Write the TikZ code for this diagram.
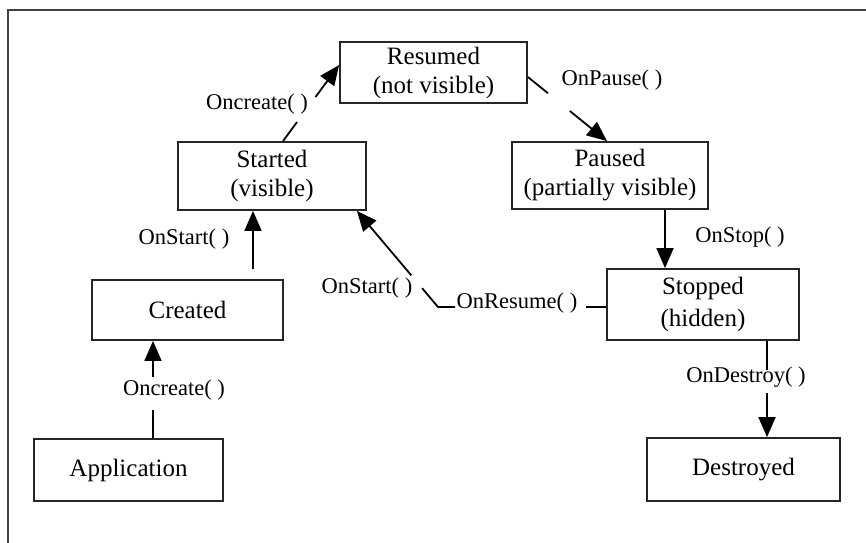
\documentclass[tikz,border=0pt]{standalone}
\usepackage{fontspec}
\setmainfont{Liberation Serif}
\usetikzlibrary{calc,arrows.meta}
\begin{document}
\begin{tikzpicture}[x=1pt,y=-1pt,
  state/.style={draw=black!85, line width=1.8pt, fill=white, align=center,
    inner sep=0pt, font=\fontsize{25}{29}\selectfont},
  call/.style={font=\fontsize{22.5}{26}\selectfont, inner sep=0pt,
    text height=0.72em, text depth=0.22em},
  link/.style={line width=1.8pt, draw=black},
  go/.style={link, -{Triangle[length=20pt,width=17pt]}},
  frame/.style={line width=2.6pt, draw=black!75}]
\useasboundingbox (0,0) rectangle (866,542);
\clip (0,0) rectangle (866,542);

% outer frame (only its top and left edges lie inside the page)
\draw[frame] (8,570) -- (8,10) -- (890,10);

% lifecycle states
\node[state, minimum width=187pt, minimum height=61pt] (res) at (433.5,72.5) {Resumed\\(not visible)};
\node[state, minimum width=188pt, minimum height=68pt] (sta) at (272,176) {Started\\(visible)};
\node[state, minimum width=196pt, minimum height=67pt] (pau) at (610,175.5) {Paused\\(partially visible)};
\node[state, minimum width=191pt, minimum height=60pt] (cre) at (187.5,310) {Created};
\node[state, minimum width=192pt, minimum height=71pt] (sto) at (703,304.5) {Stopped\\[3pt](hidden)};
\node[state, minimum width=189pt, minimum height=62pt] (app) at (128.5,470) {Application};
\node[state, minimum width=193pt, minimum height=63pt] (des) at (743.5,469.5) {Destroyed};

% callback labels
\node[call] (l1) at (174,393) {Oncreate( )};
\node[call] (l2) at (184,242) {OnStart( )};
\node[call] (l3) at (257,107) {Oncreate( )};
\node[call] (l4) at (612,83) {OnPause( )};
\node[call] (l5) at (740,240) {OnStop( )};
\node[call] (l6) at (746,380) {OnDestroy( )};
\node[call] (l7) at (517,306) {OnResume( )};
\node[call] (l8) at (367,291) {OnStart( )};

% Application -> Created
\coordinate (a1) at (153,410);
\coordinate (a2) at (153,377);
\draw[link] (app.north -| a1) -- (a1);
\draw[go] (a2) -- (cre.south -| a2);

% Created -> Started
\coordinate (c1) at (253,0);
\draw[go, shorten <=10pt] (cre.north -| c1) -- (sta.south -| c1);

% Started -> Resumed
\coordinate (s0) at ($(sta.north)+(11,0)$);
\coordinate (s1) at ($(res.west)+(0,-7.5)$);
\draw[link] (s0) -- ($(s0)!0.25!(s1)$);
\draw[go] ($(s0)!0.58!(s1)$) -- (s1);

% Resumed -> Paused
\coordinate (r0) at ($(res.east)+(0,4.5)$);
\coordinate (r1) at ($(pau.north)+(-3,0)$);
\draw[link] (r0) -- ($(r0)!0.253!(r1)$);
\draw[go] ($(r0)!0.53!(r1)$) -- (r1);

% Paused -> Stopped
\coordinate (p1) at (665,0);
\draw[go] (pau.south -| p1) -- (sto.north -| p1);

% Stopped -> Destroyed
\coordinate (d1) at (767,370);
\coordinate (d2) at (767,393);
\draw[link] (sto.south -| d1) -- (d1);
\draw[go] (d2) -- (des.north -| d2);

% Stopped -> Started
\coordinate (k0) at ($(sto.west)+(0,2.5)$);
\coordinate (k1) at (586,307);
\coordinate (k2) at (455,307);
\coordinate (k) at (438,307);
\coordinate (k3) at ($(sta.south east)+(-10,0)$);
\draw[link] (k0) -- (k1);
\draw[link] (k2) -- (k) -- ($(k)!0.196!(k3)$);
\draw[go] ($(k)!0.33!(k3)$) -- (k3);
\end{tikzpicture}
\end{document}
